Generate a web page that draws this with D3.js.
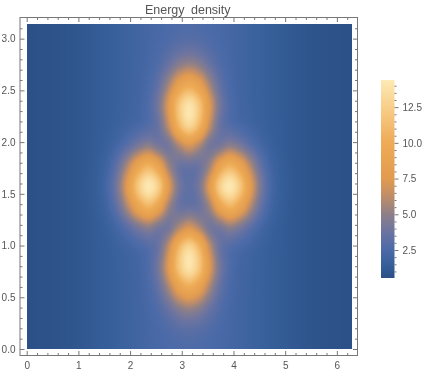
<!DOCTYPE html>
<html><head><meta charset="utf-8">
<script src="https://cdn.jsdelivr.net/npm/d3@7"></script>
<style>
html,body{margin:0;padding:0;background:#fff;}
#wrap{position:relative;width:429px;height:375px;overflow:hidden;}
#wrap canvas,#wrap svg{position:absolute;left:0;top:0;}
</style></head><body><div id="wrap"></div>
<script>
// ---------------- data ----------------
const title = "Energy density";
const xTicks = [0, 1, 2, 3, 4, 5, 6];
const yTicks = [0, 0.5, 1, 1.5, 2, 2.5, 3];
const legendTicks = [2.5, 5, 7.5, 10, 12.5];
const valueRange = [0.54, 14.4];
// grid nodes (data units), step pi/16
const xNodes = d3.range(33).map(i => i * Math.PI / 16);
const yNodes = d3.range(17).map(j => j * Math.PI / 16);
// energy density, rows = yNodes (bottom to top), cols = xNodes
const row0 = [0.62,0.66,0.71,0.78,0.86,0.97,1.10,1.26,1.43,1.62,1.81,2.00,2.18,2.35,2.49,2.60,2.65,2.60,2.49,2.35,2.18,2.00,1.81,1.62,1.43,1.26,1.10,0.97,0.86,0.78,0.71,0.66,0.62];
const row1 = [0.62,0.66,0.71,0.78,0.86,0.97,1.10,1.26,1.43,1.62,1.81,2.00,2.21,2.44,2.74,3.06,3.20,3.06,2.74,2.44,2.21,2.00,1.81,1.62,1.43,1.26,1.10,0.97,0.86,0.78,0.71,0.66,0.62];
const row2 = [0.62,0.66,0.71,0.78,0.86,0.97,1.10,1.26,1.43,1.62,1.81,2.02,2.29,2.79,3.69,4.79,5.32,4.79,3.69,2.79,2.29,2.02,1.81,1.62,1.43,1.26,1.10,0.97,0.86,0.78,0.71,0.66,0.62];
const row3 = [0.62,0.66,0.71,0.78,0.86,0.97,1.10,1.26,1.43,1.62,1.82,2.05,2.47,3.50,5.66,8.37,9.71,8.37,5.66,3.50,2.47,2.05,1.82,1.62,1.43,1.26,1.10,0.97,0.86,0.78,0.71,0.66,0.62];
const row4 = [0.62,0.66,0.71,0.78,0.86,0.97,1.10,1.26,1.43,1.63,1.84,2.11,2.68,4.20,7.52,11.78,13.87,11.78,7.52,4.20,2.68,2.11,1.84,1.63,1.43,1.26,1.10,0.97,0.86,0.78,0.71,0.66,0.62];
const row5 = [0.62,0.66,0.71,0.78,0.86,0.97,1.10,1.27,1.47,1.73,2.05,2.41,2.87,3.74,6.49,10.73,12.95,10.73,6.49,3.74,2.87,2.41,2.05,1.73,1.47,1.27,1.10,0.97,0.86,0.78,0.71,0.66,0.62];
const row6 = [0.62,0.66,0.71,0.78,0.86,0.97,1.11,1.32,1.66,2.28,3.24,4.33,5.00,4.21,4.12,5.79,7.00,5.79,4.12,4.21,5.00,4.33,3.24,2.28,1.66,1.32,1.11,0.97,0.86,0.78,0.71,0.66,0.62];
const row7 = [0.62,0.66,0.71,0.78,0.86,0.97,1.13,1.43,2.10,3.60,6.11,8.98,10.57,8.73,5.39,3.77,3.60,3.77,5.39,8.73,10.57,8.98,6.11,3.60,2.10,1.43,1.13,0.97,0.86,0.78,0.71,0.66,0.62];
const row8 = [0.62,0.66,0.71,0.78,0.86,0.97,1.15,1.50,2.40,4.46,7.99,12.04,14.26,12.32,7.53,4.21,3.30,4.21,7.53,12.32,14.26,12.04,7.99,4.46,2.40,1.50,1.15,0.97,0.86,0.78,0.71,0.66,0.62];
const row9 = [0.62,0.66,0.71,0.78,0.86,0.97,1.13,1.43,2.10,3.60,6.11,8.98,10.57,8.73,5.39,3.77,3.60,3.77,5.39,8.73,10.57,8.98,6.11,3.60,2.10,1.43,1.13,0.97,0.86,0.78,0.71,0.66,0.62];
const row10 = [0.62,0.66,0.71,0.78,0.86,0.97,1.11,1.32,1.66,2.28,3.24,4.33,5.00,4.21,4.12,5.79,7.00,5.79,4.12,4.21,5.00,4.33,3.24,2.28,1.66,1.32,1.11,0.97,0.86,0.78,0.71,0.66,0.62];
const row11 = [0.62,0.66,0.71,0.78,0.86,0.97,1.10,1.27,1.47,1.73,2.05,2.41,2.87,3.74,6.49,10.73,12.95,10.73,6.49,3.74,2.87,2.41,2.05,1.73,1.47,1.27,1.10,0.97,0.86,0.78,0.71,0.66,0.62];
const row12 = [0.62,0.66,0.71,0.78,0.86,0.97,1.10,1.26,1.43,1.63,1.84,2.11,2.68,4.20,7.52,11.78,13.87,11.78,7.52,4.20,2.68,2.11,1.84,1.63,1.43,1.26,1.10,0.97,0.86,0.78,0.71,0.66,0.62];
const row13 = [0.62,0.66,0.71,0.78,0.86,0.97,1.10,1.26,1.43,1.62,1.82,2.05,2.47,3.50,5.66,8.37,9.71,8.37,5.66,3.50,2.47,2.05,1.82,1.62,1.43,1.26,1.10,0.97,0.86,0.78,0.71,0.66,0.62];
const row14 = [0.62,0.66,0.71,0.78,0.86,0.97,1.10,1.26,1.43,1.62,1.81,2.02,2.29,2.79,3.69,4.79,5.32,4.79,3.69,2.79,2.29,2.02,1.81,1.62,1.43,1.26,1.10,0.97,0.86,0.78,0.71,0.66,0.62];
const row15 = [0.62,0.66,0.71,0.78,0.86,0.97,1.10,1.26,1.43,1.62,1.81,2.00,2.21,2.44,2.74,3.06,3.20,3.06,2.74,2.44,2.21,2.00,1.81,1.62,1.43,1.26,1.10,0.97,0.86,0.78,0.71,0.66,0.62];
const row16 = [0.62,0.66,0.71,0.78,0.86,0.97,1.10,1.26,1.43,1.62,1.81,2.00,2.18,2.35,2.49,2.60,2.65,2.60,2.49,2.35,2.18,2.00,1.81,1.62,1.43,1.26,1.10,0.97,0.86,0.78,0.71,0.66,0.62];
const energyRows = [row0,row1,row2,row3,row4,row5,row6,row7,row8,row9,row10,row11,row12,row13,row14,row15,row16];

// ---------------- style ----------------
const stopValues = [0.54, 1.5, 2.5, 3.8, 5.0, 6.3, 7.5, 10.0, 12.5, 14.4];
const stopColors = ["#2b4f86","#37609a","#4b6aa8","#6d74a0","#8d7f88","#c08d68","#e29b4f","#eeab55","#f8cf8a","#fdeab5"];
const W = 429, H = 375;
const textCol = "#555", frameCol = "#777";

const color = d3.scaleLinear().domain(stopValues).range(stopColors)
  .interpolate(d3.interpolateRgb).clamp(true);
const x = d3.scaleLinear().domain([0, 2 * Math.PI]).range([26.7, 351.5]);
const y = d3.scaleLinear().domain([0, Math.PI]).range([349, 24]);
const gx = d3.scaleLinear().domain([xNodes[0], xNodes[xNodes.length - 1]]).range([0, xNodes.length - 1]);
const gy = d3.scaleLinear().domain([yNodes[0], yNodes[yNodes.length - 1]]).range([0, yNodes.length - 1]);

const wrap = d3.select("#wrap");
const canvas = wrap.append("canvas").attr("width", W).attr("height", H).node();
const ctx = canvas.getContext("2d");

function cr(p0, p1, p2, p3, t) {
  return p1 + 0.5 * t * (p2 - p0 + t * (2 * p0 - 5 * p1 + 4 * p2 - p3 + t * (3 * (p1 - p2) + p3 - p0)));
}
const nx = xNodes.length, ny = yNodes.length;
function at(i, j) {
  i = Math.max(0, Math.min(nx - 1, i)); j = Math.max(0, Math.min(ny - 1, j));
  return energyRows[j][i];
}
function sample(u, v) {
  const i = Math.min(nx - 2, Math.floor(u)), j = Math.min(ny - 2, Math.floor(v));
  const tu = u - i, tv = v - j;
  const r = [];
  for (let k = -1; k <= 2; k++) r.push(cr(at(i - 1, j + k), at(i, j + k), at(i + 1, j + k), at(i + 2, j + k), tu));
  return cr(r[0], r[1], r[2], r[3], tv);
}
const x0 = Math.round(x.range()[0]), x1 = Math.round(x.range()[1]);
const y0 = Math.round(y.range()[1]), y1 = Math.round(y.range()[0]);
const img = ctx.createImageData(x1 - x0, y1 - y0);
for (let py = y0; py < y1; py++) {
  const v = gy(Math.max(0, Math.min(Math.PI, y.invert(py + 0.5))));
  for (let px = x0; px < x1; px++) {
    const u = gx(Math.max(0, Math.min(2 * Math.PI, x.invert(px + 0.5))));
    const c = d3.rgb(color(sample(u, v)));
    const k = ((py - y0) * (x1 - x0) + (px - x0)) * 4;
    img.data[k] = c.r; img.data[k + 1] = c.g; img.data[k + 2] = c.b; img.data[k + 3] = 255;
  }
}
ctx.putImageData(img, x0, y0);

// ---------------- svg overlay ----------------
const svg = wrap.append("svg").attr("width", W).attr("height", H)
  .style("font-family", "'Liberation Sans', Arial, sans-serif");
const fL = 20, fR = 357.5, fT = 17.5, fB = 355.5;

svg.append("text").attr("x", (fL + fR) / 2 - 1).attr("y", 13.5).attr("text-anchor", "middle")
  .attr("font-size", 12.5).attr("fill", textCol).attr("word-spacing", "3px").text(title);

const frame = svg.append("g").attr("stroke", frameCol).attr("stroke-width", 1).attr("fill", "none");
frame.append("rect").attr("x", fL).attr("y", fT).attr("width", fR - fL).attr("height", fB - fT);

const xMinor = d3.range(0, 6.3, 0.2).filter(v => Math.abs(v - Math.round(v)) > 1e-6);
const yMinor = d3.range(0, 3.15, 0.1).filter(v => Math.abs(v * 2 - Math.round(v * 2)) > 1e-6);

function styleAxis(g) {
  g.select(".domain").remove();
  g.selectAll(".tick line").attr("stroke", frameCol);
  g.selectAll(".tick text").attr("fill", textCol).attr("font-size", 10);
}
// bottom
svg.append("g").attr("transform", `translate(0,${fB})`)
  .call(d3.axisBottom(x).tickValues(xTicks).tickSize(-4.5).tickPadding(6).tickFormat(d3.format("d")))
  .call(styleAxis);
svg.append("g").attr("transform", `translate(0,${fB})`)
  .call(d3.axisBottom(x).tickValues(xMinor).tickSize(-2.5).tickFormat(""))
  .call(styleAxis);
// top
svg.append("g").attr("transform", `translate(0,${fT})`)
  .call(d3.axisTop(x).tickValues(xTicks).tickSize(-4.5).tickFormat(""))
  .call(styleAxis);
svg.append("g").attr("transform", `translate(0,${fT})`)
  .call(d3.axisTop(x).tickValues(xMinor).tickSize(-2.5).tickFormat(""))
  .call(styleAxis);
// left
svg.append("g").attr("transform", `translate(${fL},0)`)
  .call(d3.axisLeft(y).tickValues(yTicks).tickSize(-4.5).tickPadding(4.5).tickFormat(d3.format(".1f")))
  .call(styleAxis);
svg.append("g").attr("transform", `translate(${fL},0)`)
  .call(d3.axisLeft(y).tickValues(yMinor).tickSize(-2.5).tickFormat(""))
  .call(styleAxis);
// right
svg.append("g").attr("transform", `translate(${fR},0)`)
  .call(d3.axisRight(y).tickValues(yTicks).tickSize(-4.5).tickFormat(""))
  .call(styleAxis);
svg.append("g").attr("transform", `translate(${fR},0)`)
  .call(d3.axisRight(y).tickValues(yMinor).tickSize(-2.5).tickFormat(""))
  .call(styleAxis);

// ---------------- colour bar legend ----------------
const lx0 = 381, lx1 = 394.5;
const ly = d3.scaleLinear().domain(valueRange).range([278, 80]);
const defs = svg.append("defs");
const grad = defs.append("linearGradient").attr("id", "cbar")
  .attr("x1", 0).attr("y1", 1).attr("x2", 0).attr("y2", 0);
d3.range(0, 1.0001, 0.02).forEach(t => {
  const val = valueRange[0] + t * (valueRange[1] - valueRange[0]);
  grad.append("stop").attr("offset", t).attr("stop-color", color(val));
});
svg.append("rect").attr("x", lx0).attr("y", ly(valueRange[1])).attr("width", lx1 - lx0)
  .attr("height", ly(valueRange[0]) - ly(valueRange[1])).attr("fill", "url(#cbar)");
const legMinor = d3.range(1, 14.01, 0.5).filter(v => Math.abs(v / 2.5 - Math.round(v / 2.5)) > 1e-6);
svg.append("g").attr("transform", `translate(${lx1},0)`)
  .call(d3.axisRight(ly).tickValues(legendTicks).tickSize(4).tickPadding(4).tickFormat(d3.format(".1f")))
  .call(styleAxis);
svg.append("g").attr("transform", `translate(${lx1},0)`)
  .call(d3.axisRight(ly).tickValues(legMinor).tickSize(2).tickFormat(""))
  .call(styleAxis);
</script></body></html>
